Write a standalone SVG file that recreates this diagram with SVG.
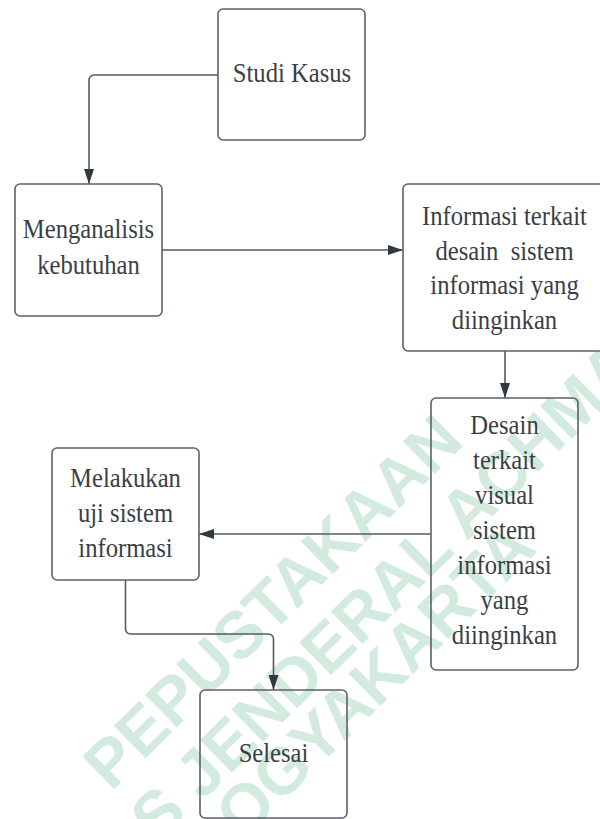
<svg xmlns="http://www.w3.org/2000/svg" width="600" height="819" viewBox="0 0 600 819">
<style>
.wm{font-family:"Liberation Sans",Arial,sans-serif;font-weight:bold;font-size:66px;fill:#d3ebdf}
.box{fill:none;stroke:#5c6268;stroke-width:1.6}
.lbl{font-family:"Liberation Serif","Times New Roman",serif;font-size:28px;fill:#3a3f45;text-anchor:middle}
.conn{fill:none;stroke:#555b61;stroke-width:1.6}
</style>
<defs>
<marker id="arr" viewBox="0 0 15 10" refX="15" refY="5" markerWidth="15" markerHeight="10" markerUnits="userSpaceOnUse" orient="auto">
<path d="M0,0 L15,5 L0,10 Z" fill="#2f3a40"/>
</marker>
</defs>
<rect x="0" y="0" width="600" height="819" fill="#ffffff"/>
<g id="watermark">
<text class="wm" transform="translate(111 792) rotate(-44.5)">PEPUSTAKAAN</text>
<text class="wm" transform="translate(158 845) rotate(-44.5)">S JENDERAL ACHMA</text>
<text class="wm" transform="translate(243 841) rotate(-44.5)">OGYAKARTA</text>
</g>
<g id="connectors">
<path class="conn" d="M218,75 H94 A5,5 0 0 0 89,80 V184" marker-end="url(#arr)"/>
<path class="conn" d="M162,250 H403" marker-end="url(#arr)"/>
<path class="conn" d="M505,351 V398" marker-end="url(#arr)"/>
<path class="conn" d="M431,534 H199" marker-end="url(#arr)"/>
<path class="conn" d="M125.5,580 V629 A5,5 0 0 0 130.5,634 H268.5 A5,5 0 0 1 273.5,639 V690" marker-end="url(#arr)"/>
</g>
<g id="studi-kasus">
<rect class="box" x="218" y="9" width="147" height="131" rx="5"/>
<g transform="translate(292 0) scale(0.88 1)"><text class="lbl" x="0" y="82">Studi Kasus</text></g>
</g>
<g id="menganalisis">
<rect class="box" x="15" y="184" width="147" height="132" rx="5"/>
<g transform="translate(88.5 0) scale(0.88 1)">
<text class="lbl" x="0" y="238.5">Menganalisis</text>
<text class="lbl" x="0" y="274">kebutuhan</text>
</g>
</g>
<g id="informasi">
<rect class="box" x="403" y="184" width="203" height="167" rx="5"/>
<g transform="translate(504.5 0) scale(0.88 1)">
<text class="lbl" x="0" y="225.5">Informasi terkait</text>
<text class="lbl" x="0" y="260" xml:space="preserve">desain  sistem</text>
<text class="lbl" x="0" y="294.5">informasi yang</text>
<text class="lbl" x="0" y="329">diinginkan</text>
</g>
</g>
<g id="desain">
<rect class="box" x="431" y="398" width="147" height="272" rx="5"/>
<g transform="translate(504.5 0) scale(0.88 1)">
<text class="lbl" x="0" y="434">Desain</text>
<text class="lbl" x="0" y="469">terkait</text>
<text class="lbl" x="0" y="504">visual</text>
<text class="lbl" x="0" y="539">sistem</text>
<text class="lbl" x="0" y="574">informasi</text>
<text class="lbl" x="0" y="609">yang</text>
<text class="lbl" x="0" y="644">diinginkan</text>
</g>
</g>
<g id="melakukan">
<rect class="box" x="52" y="448" width="147" height="132" rx="5"/>
<g transform="translate(125.5 0) scale(0.88 1)">
<text class="lbl" x="0" y="487">Melakukan</text>
<text class="lbl" x="0" y="522">uji sistem</text>
<text class="lbl" x="0" y="557">informasi</text>
</g>
</g>
<g id="selesai">
<rect class="box" x="200" y="690" width="147" height="128" rx="5"/>
<g transform="translate(273.5 0) scale(0.88 1)"><text class="lbl" x="0" y="762">Selesai</text></g>
</g>
</svg>
